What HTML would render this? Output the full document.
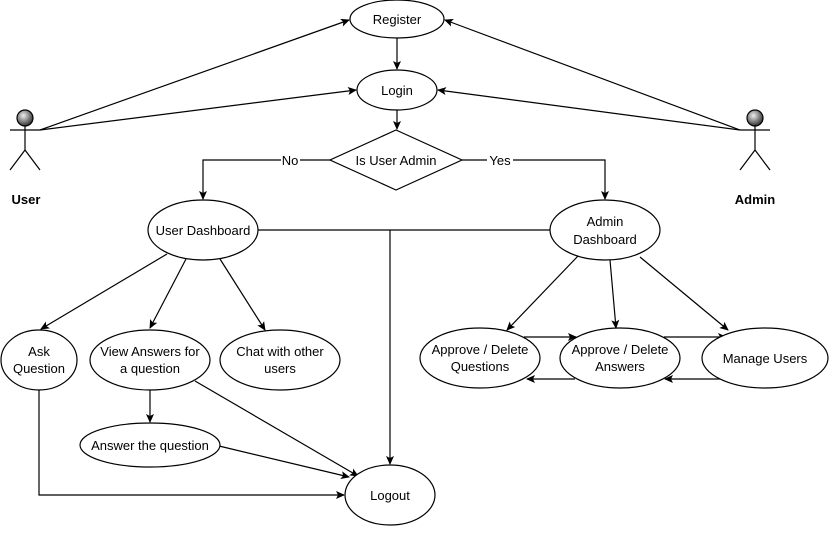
<!DOCTYPE html>
<html><head><meta charset="utf-8"><style>
html,body{margin:0;padding:0;background:#fff;}
svg text{font-family:"Liberation Sans",Arial,sans-serif;font-size:13px;fill:#000;}
</style></head><body>
<svg width="832" height="532" viewBox="0 0 832 532" xmlns="http://www.w3.org/2000/svg">
<defs>
<marker id="a" markerWidth="10" markerHeight="10" refX="8" refY="4" orient="auto" markerUnits="userSpaceOnUse">
<path d="M0,0 L9,4 L0,8 L2,4 Z" fill="#000"/></marker>
<radialGradient id="g" cx="40%" cy="35%" r="65%"><stop offset="0" stop-color="#eee"/><stop offset="1" stop-color="#333"/></radialGradient>
</defs>
<g stroke="#000" stroke-width="1.2" fill="none">
<!-- actors -->
<line x1="40" y1="130" x2="349" y2="20" marker-end="url(#a)"/>
<line x1="40" y1="130" x2="356" y2="90" marker-end="url(#a)"/>
<line x1="740" y1="130" x2="445" y2="20" marker-end="url(#a)"/>
<line x1="740" y1="130" x2="438" y2="90" marker-end="url(#a)"/>
<line x1="397" y1="38" x2="397" y2="69" marker-end="url(#a)"/>
<line x1="397" y1="110" x2="397" y2="129" marker-end="url(#a)"/>
<polyline points="330,160 203,160 203,199" marker-end="url(#a)"/>
<polyline points="462,160 605,160 605,199" marker-end="url(#a)"/>
<line x1="258" y1="230" x2="550" y2="230"/>
<line x1="390" y1="230" x2="390" y2="464" marker-end="url(#a)"/>
<line x1="167" y1="254" x2="41" y2="329" marker-end="url(#a)"/>
<line x1="186" y1="259" x2="150" y2="328" marker-end="url(#a)"/>
<line x1="220" y1="259" x2="265" y2="330" marker-end="url(#a)"/>
<line x1="578" y1="256" x2="507" y2="330" marker-end="url(#a)"/>
<line x1="610" y1="260" x2="616" y2="328" marker-end="url(#a)"/>
<line x1="640" y1="257" x2="728" y2="330" marker-end="url(#a)"/>
<line x1="524" y1="337" x2="576" y2="337" marker-end="url(#a)"/>
<line x1="664" y1="337" x2="726" y2="337" marker-end="url(#a)"/>
<line x1="720" y1="379" x2="665" y2="379" marker-end="url(#a)"/>
<line x1="575" y1="379" x2="527" y2="379" marker-end="url(#a)"/>
<line x1="150" y1="390" x2="150" y2="422" marker-end="url(#a)"/>
<line x1="195" y1="381" x2="358" y2="476" marker-end="url(#a)"/>
<line x1="219" y1="446" x2="349" y2="477" marker-end="url(#a)"/>
<polyline points="39,390 39,495 344,495" marker-end="url(#a)"/>
<!-- shapes -->
<g fill="#fff">
<ellipse cx="397" cy="19" rx="47" ry="19"/>
<ellipse cx="397" cy="90" rx="40" ry="20"/>
<polygon points="396,130 462,160 396,190 330,160"/>
<ellipse cx="203" cy="230" rx="55" ry="30"/>
<ellipse cx="605" cy="230" rx="55" ry="30"/>
<ellipse cx="39" cy="360" rx="38" ry="30"/>
<ellipse cx="150" cy="360" rx="60" ry="30"/>
<ellipse cx="280" cy="360" rx="60" ry="30"/>
<ellipse cx="150" cy="445" rx="70" ry="22"/>
<ellipse cx="390" cy="495" rx="45" ry="30"/>
<ellipse cx="480" cy="358" rx="60" ry="30"/>
<ellipse cx="620" cy="358" rx="60" ry="30"/>
<ellipse cx="765" cy="358" rx="63" ry="30"/>
</g>
<circle cx="25" cy="118" r="8" fill="url(#g)"/>
<line x1="25" y1="126" x2="25" y2="150"/><line x1="10" y1="130" x2="40" y2="130"/>
<polyline points="10,170 25,150 40,170"/>
<circle cx="755" cy="118" r="8" fill="url(#g)"/>
<line x1="755" y1="126" x2="755" y2="150"/><line x1="740" y1="130" x2="770" y2="130"/>
<polyline points="740,170 755,150 770,170"/>
</g>
<rect x="281" y="152" width="19" height="16" fill="#fff"/>
<rect x="487" y="152" width="26" height="16" fill="#fff"/>
<g text-anchor="middle">
<text x="290" y="165">No</text>
<text x="500" y="165">Yes</text>
<text x="26" y="204" style="font-weight:bold">User</text>
<text x="755" y="204" style="font-weight:bold">Admin</text>
<text x="397" y="24">Register</text>
<text x="397" y="95">Login</text>
<text x="396" y="165">Is User Admin</text>
<text x="203" y="235">User Dashboard</text>
<text x="605" y="226">Admin</text><text x="605" y="244">Dashboard</text>
<text x="39" y="356">Ask</text><text x="39" y="373">Question</text>
<text x="150" y="356">View Answers for</text><text x="150" y="373">a question</text>
<text x="280" y="356">Chat with other</text><text x="280" y="373">users</text>
<text x="150" y="450">Answer the question</text>
<text x="390" y="500">Logout</text>
<text x="480" y="354">Approve / Delete</text><text x="480" y="371">Questions</text>
<text x="620" y="354">Approve / Delete</text><text x="620" y="371">Answers</text>
<text x="765" y="363">Manage Users</text>
</g>
</svg>
</body></html>
